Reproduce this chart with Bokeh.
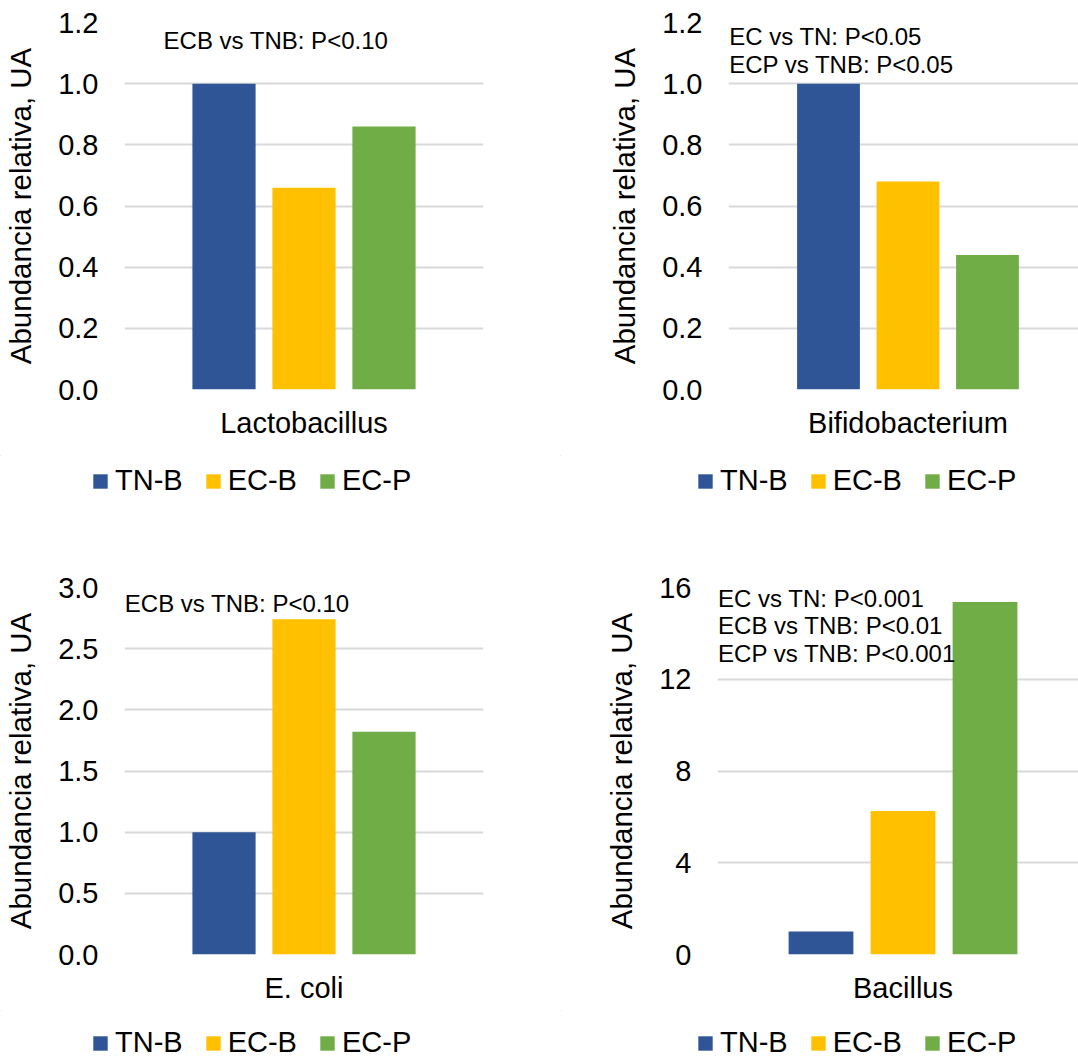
from bokeh.plotting import figure
from bokeh.models import Range1d, FixedTicker, Legend, LegendItem, Label, NumeralTickFormatter
from bokeh.layouts import column, row
from bokeh.embed import file_html
from bokeh.resources import INLINE

# ---- data ----
groups = ["TN-B", "EC-B", "EC-P"]
colors = ["#2F5597", "#FFC000", "#70AD47"]

cat_lacto = "Lactobacillus"
cat_bifido = "Bifidobacterium"
cat_ecoli = "E. coli"
cat_bacillus = "Bacillus"

lacto = [1.00, 0.66, 0.86]
bifido = [1.00, 0.68, 0.44]
ecoli = [1.00, 2.74, 1.82]
bacillus = [1.00, 6.26, 15.37]

ticks_lacto = [0.0, 0.2, 0.4, 0.6, 0.8, 1.0, 1.2]
ticks_bifido = [0.0, 0.2, 0.4, 0.6, 0.8, 1.0, 1.2]
ticks_ecoli = [0.0, 0.5, 1.0, 1.5, 2.0, 2.5, 3.0]
ticks_bacillus = [0, 4, 8, 12, 16]

notes_lacto = ["ECB vs TNB: P<0.10"]
notes_bifido = ["EC vs TN: P<0.05", "ECP vs TNB: P<0.05"]
notes_ecoli = ["ECB vs TNB: P<0.10"]
notes_bacillus = ["EC vs TN: P<0.001", "ECB vs TNB: P<0.01", "ECP vs TNB: P<0.001"]

FONT = "Liberation Sans"
BIG = "29px"
SMALL = "24px"


def chart(category, values, ticks, fmt, notes, note_x, note_ys,
          width, height, bl, br, bt, bb, xr):
    p = figure(width=width, height=height, output_backend="svg", toolbar_location=None,
               x_range=Range1d(*xr), y_range=Range1d(ticks[0], ticks[-1]),
               min_border_left=bl, min_border_right=br, min_border_top=bt, min_border_bottom=bb)
    p.frame_align = False
    p.outline_line_color = None
    p.background_fill_color = "white"
    p.border_fill_color = "white"

    for i, (v, c) in enumerate(zip(values, colors)):
        p.vbar(x=[i - 1], top=[v], bottom=0, width=0.79, fill_color=c, line_color=None)

    ya = p.yaxis[0]
    ya.ticker = FixedTicker(ticks=ticks)
    ya.formatter = NumeralTickFormatter(format=fmt)
    ya.axis_line_color = None
    ya.major_tick_line_color = None
    ya.minor_tick_line_color = None
    ya.major_tick_out = 0
    ya.major_label_standoff = 26
    ya.major_label_text_font = FONT
    ya.major_label_text_font_size = BIG
    ya.major_label_text_color = "#000000"
    ya.axis_label = "Abundancia relativa, UA"
    ya.axis_label_text_font = FONT
    ya.axis_label_text_font_size = "29.5px"
    ya.axis_label_text_font_style = "normal"
    ya.axis_label_text_color = "#000000"
    ya.axis_label_standoff = 18

    xa = p.xaxis[0]
    xa.ticker = FixedTicker(ticks=[0])
    xa.major_label_overrides = {0: category}
    xa.axis_line_color = None
    xa.major_tick_line_color = None
    xa.minor_tick_line_color = None
    xa.major_tick_out = 0
    xa.major_label_standoff = 17
    xa.major_label_text_font = FONT
    xa.major_label_text_font_size = BIG
    xa.major_label_text_color = "#000000"

    p.xgrid.grid_line_color = None
    p.ygrid.grid_line_color = "#D9D9D9"
    p.ygrid.grid_line_width = 1.8

    for t, y in zip(notes, note_ys):
        p.add_layout(Label(x=note_x, y=y, text=t, text_font=FONT, text_font_size=SMALL,
                           text_color="#000000", text_baseline="alphabetic"))
    return p


def legend_fig(values, width, height, loc):
    # legend-only strip; its bars use the same data but lie far outside the visible ranges
    f = figure(width=width, height=height, output_backend="svg", toolbar_location=None,
               x_axis_location=None, y_axis_location=None,
               x_range=Range1d(50, 51), y_range=Range1d(-60, -59),
               min_border=0, min_border_left=0, min_border_right=0,
               min_border_top=0, min_border_bottom=0)
    f.frame_align = False
    f.outline_line_color = None
    f.grid.grid_line_color = None
    f.background_fill_color = "white"
    f.border_fill_color = "white"
    items = []
    for i, (g, v, c) in enumerate(zip(groups, values, colors)):
        r = f.vbar(x=[i - 1], top=[v], bottom=0, width=0.79, fill_color=c, line_color=None)
        items.append(LegendItem(label=g, renderers=[r]))
    leg = Legend(items=items, orientation="horizontal", location=loc,
                 glyph_width=18, glyph_height=18, label_standoff=6, spacing=21,
                 padding=0, margin=0, border_line_color=None, background_fill_alpha=0,
                 label_text_font=FONT, label_text_font_size=BIG, label_text_color="#000000")
    f.add_layout(leg)
    return f


p1 = chart(cat_lacto, lacto, ticks_lacto, "0.0", notes_lacto, -1.756, [1.141],
           560, 455, 124, 77, 22, 66, (-2.244, 2.244))
p2 = chart(cat_bifido, bifido, ticks_bifido, "0.0", notes_bifido, -2.25, [1.154, 1.063],
           518, 455, 168, 0, 22, 66, (-2.258, 2.145))
p3 = chart(cat_ecoli, ecoli, ticks_ecoli, "0.0", notes_ecoli, -2.24, [2.867],
           560, 480, 124, 77, 57, 56, (-2.244, 2.244))
p4 = chart(cat_bacillus, bacillus, ticks_bacillus, "0", notes_bacillus, -2.255, [15.507, 14.33, 13.11],
           518, 480, 157, 0, 57, 56, (-2.262, 2.140))

l1 = legend_fig(lacto, 560, 75, (91, 33))
l2 = legend_fig(bifido, 518, 75, (136, 33))
l3 = legend_fig(ecoli, 560, 49, (91, 0))
l4 = legend_fig(bacillus, 518, 49, (136, 0))

layout = column(
    row(column(p1, l1, spacing=0), column(p2, l2, spacing=0), spacing=0),
    row(column(p3, l3, spacing=0), column(p4, l4, spacing=0), spacing=0),
    spacing=0)
open("out.html", "w").write(file_html(layout, INLINE))
